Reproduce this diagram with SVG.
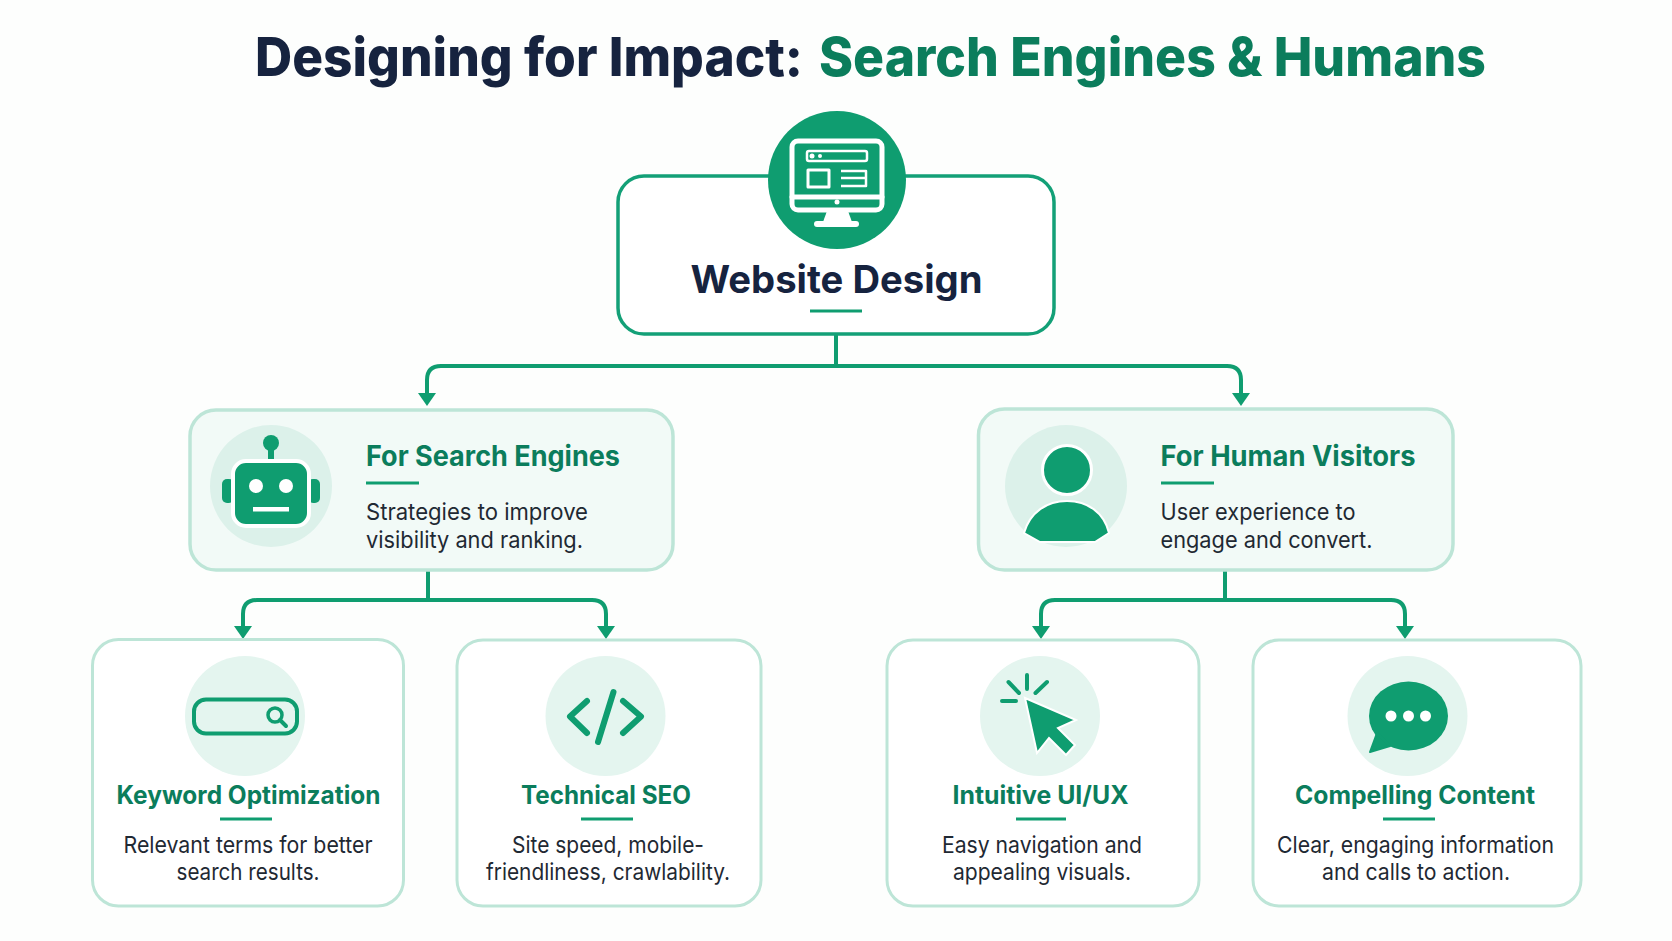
<svg xmlns="http://www.w3.org/2000/svg" width="1672" height="941" viewBox="0 0 1672 941">
<style>
text{font-family:"Inter","Liberation Sans",sans-serif}
.title{font-size:54px;font-weight:800}
.dark{fill:#16233f}
.tg{fill:#0b7d5c}
.root{fill:#fff;stroke:#13a077;stroke-width:3.5}
.mid{fill:#f2faf7;stroke:#bde5d7;stroke-width:3.5}
.card{fill:#fff;stroke:#bde5d7;stroke-width:3}
.ic{fill:#dcf1ea}
.ic2{fill:#e4f5ef}
.g{fill:#0f9d70}
.conn{stroke:#0f9d70;stroke-width:4;fill:none}
.h1{font-size:38px;font-weight:700;text-anchor:middle}
.h2{font-size:28px;font-weight:700}
.h3{font-size:25px;font-weight:700;text-anchor:middle}
.d2{font-size:23px;fill:#1f2933}
.d3{font-size:23px;fill:#1f2933;text-anchor:middle}
.w{fill:none;stroke:#fff;stroke-linecap:round;stroke-linejoin:round}
.s{fill:none;stroke:#0f9d70;stroke-linecap:round;stroke-linejoin:round}
</style>
<defs>
<marker id="arrow" markerUnits="userSpaceOnUse" viewBox="0 0 13 18" markerWidth="13" markerHeight="18" refX="0" refY="9" orient="auto"><path d="M0 0L13 9L0 18Z" fill="#0f9d70"/></marker>
</defs>
<rect width="1672" height="941" fill="#fdfefd"/>
<g id="title"><text x="255" y="75.5" class="title dark" textLength="548" lengthAdjust="spacingAndGlyphs">Designing for Impact:</text><text x="819" y="75.5" class="title tg" textLength="667" lengthAdjust="spacingAndGlyphs">Search Engines &amp; Humans</text></g>
<g id="connectors">
<path class="conn" marker-end="url(#arrow)" d="M836 334V366H441Q427 366 427 380V393"/>
<path class="conn" marker-end="url(#arrow)" d="M836 334V366H1227Q1241 366 1241 380V393"/>
<path class="conn" marker-end="url(#arrow)" d="M428 570V600H257Q243 600 243 614V626"/>
<path class="conn" marker-end="url(#arrow)" d="M428 570V600H592Q606 600 606 614V626"/>
<path class="conn" marker-end="url(#arrow)" d="M1225 570V600H1055Q1041 600 1041 614V626"/>
<path class="conn" marker-end="url(#arrow)" d="M1225 570V600H1391Q1405 600 1405 614V626"/>
</g>
<g id="website-design">
<rect class="root" x="618" y="176" width="436" height="158" rx="26"/>
<circle class="g" cx="837" cy="180" r="69"/>
<g class="w">
<rect x="792" y="141" width="90" height="69" rx="6" stroke-width="5"/>
<path d="M792 197H882" stroke-width="5"/>
<rect x="807" y="151" width="60" height="10" rx="2" stroke-width="2.5"/>
<rect x="808" y="170" width="21" height="17" stroke-width="3"/>
<path d="M841 171H866V186H841M841 178H866" stroke-width="2.5" stroke-linecap="butt"/>
</g>
<circle cx="812" cy="156" r="2.5" fill="#fff"/><circle cx="820" cy="156" r="2" fill="#fff"/><circle cx="837" cy="202" r="2.5" fill="#fff"/>
<path d="M827 211H848L852 222H823Z" fill="#fff"/>
<rect x="814" y="221" width="45" height="6" rx="3" fill="#fff"/>
<text x="836.5" y="293" class="h1 dark" textLength="292" lengthAdjust="spacingAndGlyphs">Website Design</text>
<rect x="810" y="309.5" width="52" height="3" fill="#0f9d70"/>
</g>
<g id="for-search-engines">
<rect class="mid" x="190" y="410" width="483" height="160" rx="26"/>
<circle class="ic" cx="271" cy="486" r="61"/>
<circle class="g" cx="271" cy="443" r="8"/><rect class="g" x="268" y="448" width="6" height="12"/>
<rect class="g" x="222" y="479" width="12" height="24" rx="5"/><rect class="g" x="308" y="479" width="12" height="24" rx="5"/>
<rect class="g" x="233" y="461" width="76" height="65" rx="13" stroke="#fff" stroke-width="4"/>
<circle cx="256" cy="486" r="7" fill="#fff"/><circle cx="286" cy="486" r="7" fill="#fff"/>
<rect x="253" y="507" width="36" height="4.5" fill="#fff"/>
<text x="366" y="465.5" class="h2 tg" textLength="254" lengthAdjust="spacingAndGlyphs">For Search Engines</text>
<rect x="366" y="481.5" width="53" height="3" fill="#0f9d70"/>
<text x="366" y="520" class="d2" textLength="222" lengthAdjust="spacingAndGlyphs">Strategies to improve</text>
<text x="366" y="548" class="d2" textLength="217" lengthAdjust="spacingAndGlyphs">visibility and ranking.</text>
</g>
<g id="for-human-visitors">
<rect class="mid" x="978.5" y="409" width="474.5" height="161" rx="26"/>
<circle class="ic" cx="1066" cy="486" r="61"/>
<circle class="g" cx="1067" cy="470" r="24.5" stroke="#fff" stroke-width="3"/>
<path class="g" d="M1024 533C1030 512 1047 501 1067 501C1087 501 1104 512 1109 533L1095 542H1040Z" stroke="#fff" stroke-width="2"/>
<text x="1160.5" y="465.5" class="h2 tg" textLength="255" lengthAdjust="spacingAndGlyphs">For Human Visitors</text>
<rect x="1161" y="481.5" width="53" height="3" fill="#0f9d70"/>
<text x="1160.5" y="520" class="d2" textLength="195" lengthAdjust="spacingAndGlyphs">User experience to</text>
<text x="1160.5" y="548" class="d2" textLength="212" lengthAdjust="spacingAndGlyphs">engage and convert.</text>
</g>
<g id="keyword-optimization">
<rect class="card" x="92.5" y="639.5" width="311" height="266.5" rx="26"/>
<circle class="ic2" cx="245" cy="716" r="60"/>
<rect x="194" y="699.5" width="103" height="34" rx="12" fill="none" stroke="#0f9d70" stroke-width="4"/>
<circle cx="275" cy="715" r="7" fill="none" stroke="#0f9d70" stroke-width="3.5"/><path class="s" d="M280 720L286 726" stroke-width="4"/>
<text x="248.5" y="804" class="h3 tg" textLength="264" lengthAdjust="spacingAndGlyphs">Keyword Optimization</text>
<rect x="220" y="817.5" width="52" height="3" fill="#0f9d70"/>
<text x="248" y="853" class="d3" textLength="249" lengthAdjust="spacingAndGlyphs">Relevant terms for better</text>
<text x="248" y="880" class="d3" textLength="143" lengthAdjust="spacingAndGlyphs">search results.</text>
</g>
<g id="technical-seo">
<rect class="card" x="457" y="640" width="304" height="266" rx="26"/>
<circle class="ic2" cx="605.5" cy="716" r="60"/>
<path class="s" d="M587 701L570 716.5L587 733M623 701L641 716.5L623 733M613.5 692L598 742" stroke-width="6"/>
<text x="606" y="804" class="h3 tg" textLength="170" lengthAdjust="spacingAndGlyphs">Technical SEO</text>
<rect x="581" y="817.5" width="52" height="3" fill="#0f9d70"/>
<text x="608" y="853" class="d3" textLength="192" lengthAdjust="spacingAndGlyphs">Site speed, mobile-</text>
<text x="608" y="880" class="d3" textLength="244" lengthAdjust="spacingAndGlyphs">friendliness, crawlability.</text>
</g>
<g id="intuitive-ui-ux">
<rect class="card" x="887" y="640" width="312" height="266" rx="26"/>
<circle class="ic2" cx="1040" cy="716" r="60"/>
<path class="g" d="M1025 698L1076 720L1058 728L1075 745L1066 755L1049 738L1037 753Z" stroke="#fff" stroke-width="2"/>
<path class="s" d="M1027 675V689M1008.5 682L1019 693M1047 682L1035.5 693M1002 701H1016" stroke-width="4"/>
<text x="1040.5" y="804" class="h3 tg" textLength="176" lengthAdjust="spacingAndGlyphs">Intuitive UI/UX</text>
<rect x="1016" y="817.5" width="50" height="3" fill="#0f9d70"/>
<text x="1042" y="853" class="d3" textLength="200" lengthAdjust="spacingAndGlyphs">Easy navigation and</text>
<text x="1042" y="880" class="d3" textLength="178" lengthAdjust="spacingAndGlyphs">appealing visuals.</text>
</g>
<g id="compelling-content">
<rect class="card" x="1253" y="640" width="328" height="266" rx="26"/>
<circle class="ic2" cx="1407.5" cy="716" r="60"/>
<ellipse class="g" cx="1408.5" cy="716" rx="39.5" ry="34.5"/>
<path class="g" d="M1377 733L1370 752L1390 746Z" stroke="#0f9d70" stroke-width="2" stroke-linejoin="round"/>
<circle cx="1391" cy="716" r="5.5" fill="#fff"/><circle cx="1408.5" cy="716" r="5.5" fill="#fff"/><circle cx="1425.5" cy="716" r="5.5" fill="#fff"/>
<text x="1415" y="804" class="h3 tg" textLength="240" lengthAdjust="spacingAndGlyphs">Compelling Content</text>
<rect x="1383" y="817.5" width="52" height="3" fill="#0f9d70"/>
<text x="1415.5" y="853" class="d3" textLength="277" lengthAdjust="spacingAndGlyphs">Clear, engaging information</text>
<text x="1416" y="880" class="d3" textLength="188" lengthAdjust="spacingAndGlyphs">and calls to action.</text>
</g>
</svg>
